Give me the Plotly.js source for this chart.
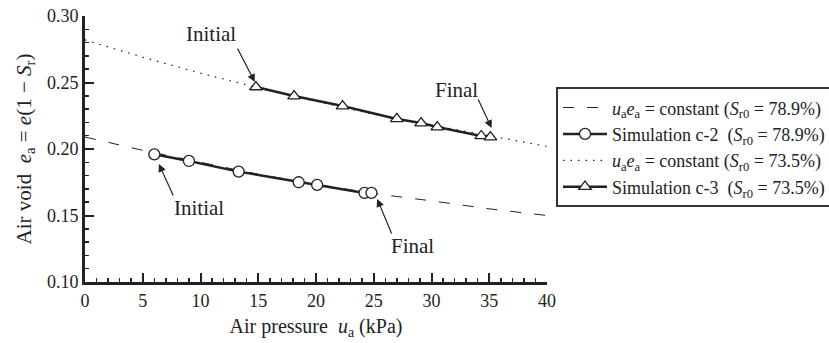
<!DOCTYPE html>
<html>
<head>
<meta charset="utf-8">
<script src="https://cdn.plot.ly/plotly-3.0.1.min.js"></script>
<style>html,body{margin:0;padding:0;background:#fff;}#chart{width:829px;height:343px;}</style>
</head>
<body>
<div id="chart"></div>
<script>
// u_a e_a = constant curves
const constX = [0, 5, 10, 15, 20, 25, 30, 35, 40];
const const789 = [0.209, 0.199, 0.190, 0.181, 0.1735, 0.1665, 0.161, 0.155, 0.150];
const const735 = [0.282, 0.269, 0.257, 0.246, 0.236, 0.226, 0.218, 0.210, 0.202];
// Simulation c-2 (S_r0 = 78.9%)
const c2X = [6.0, 9.0, 13.3, 18.5, 20.1, 24.2, 24.8];
const c2Y = [0.196, 0.191, 0.183, 0.175, 0.173, 0.167, 0.167];
// Simulation c-3 (S_r0 = 73.5%)
const c3X = [14.8, 18.1, 22.3, 27.0, 29.1, 30.5, 34.3, 35.1];
const c3Y = [0.2466, 0.2398, 0.2323, 0.2226, 0.2195, 0.2165, 0.2098, 0.2090];
const xTicks = [0, 5, 10, 15, 20, 25, 30, 35, 40];
const yTicks = [0.10, 0.15, 0.20, 0.25, 0.30];
const legendNames = [
  '<i>u</i><sub>a</sub><i>e</i><sub>a</sub> = constant (<i>S</i><sub>r0</sub> = 78.9%)',
  'Simulation c-2  (<i>S</i><sub>r0</sub> = 78.9%)',
  '<i>u</i><sub>a</sub><i>e</i><sub>a</sub> = constant (<i>S</i><sub>r0</sub> = 73.5%)',
  'Simulation c-3  (<i>S</i><sub>r0</sub> = 73.5%)'
];

const ink = '#222';
const font = 'Liberation Serif, Times New Roman, serif';

const traces = [
  {x: constX, y: const789, mode: 'lines', name: legendNames[0],
   line: {color: ink, width: 1, dash: '11px,13px'}},
  {x: c2X, y: c2Y, mode: 'lines+markers', name: legendNames[1],
   line: {color: ink, width: 2.5},
   marker: {symbol: 'circle', size: 11, color: '#fff', line: {color: ink, width: 1.3}}},
  {x: constX, y: const735, mode: 'lines', name: legendNames[2],
   line: {color: ink, width: 1.2, dash: '1.5px,6px'}},
  {x: c3X, y: c3Y, mode: 'lines+markers', name: legendNames[3],
   line: {color: ink, width: 2.5},
   marker: {symbol: 'triangle-up', size: 11, color: '#fff', line: {color: ink, width: 1.3}}}
];

function arrow(x, y, ax, ay) {
  return {x: x, y: y, xref: 'x', yref: 'y', ax: ax, ay: ay, text: '', showarrow: true,
          arrowhead: 2, arrowsize: 1.3, arrowwidth: 1.2, arrowcolor: ink};
}
function label(x, y, t) {
  return {x: x, y: y, xref: 'x', yref: 'y', text: t, showarrow: false,
          font: {family: font, size: 21, color: ink}};
}
function px2x(p) { return (p - 85) / 462 * 40; }
function px2y(p) { return 0.30 - (p - 16) / 266 * 0.20; }

const annotations = [
  arrow(14.7, 0.2504, -18, -35),
  label(px2x(211), px2y(34), 'Initial'),
  arrow(35.2, 0.2158, -14, -30),
  label(px2x(456), px2y(90), 'Final'),
  arrow(6.4, 0.1887, 15, 33),
  label(px2x(199), px2y(208), 'Initial'),
  arrow(25.3, 0.1624, 15, 36),
  label(px2x(412), px2y(246), 'Final')
];

const layout = {
  width: 829, height: 343,
  margin: {l: 85, r: 282, t: 16, b: 61, autoexpand: false},
  paper_bgcolor: '#fff', plot_bgcolor: '#fff',
  font: {family: font, size: 18, color: ink},
  showlegend: true,
  legend: {x: 1.0195, y: 0.732, xanchor: 'left', yanchor: 'top',
           bordercolor: '#333', borderwidth: 2, bgcolor: '#fff',
           font: {family: font, size: 18, color: ink}, itemwidth: 44,
           tracegroupgap: 0},
  xaxis: {range: [0, 40], tickvals: xTicks, ticktext: xTicks.map(String), automargin: false,
          showgrid: false, zeroline: false, showline: true, linecolor: ink, linewidth: 3,
          ticks: 'inside', ticklen: 9, tickwidth: 2, tickcolor: ink,
          minor: {dtick: 1, ticks: 'inside', ticklen: 4, tickwidth: 1.5, tickcolor: ink, showgrid: false},
          tickfont: {family: font, size: 18, color: ink},
          title: {text: 'Air pressure  <i>u</i><sub>a</sub> (kPa)', font: {family: font, size: 20, color: ink}, standoff: 10}},
  yaxis: {range: [0.10, 0.30], tickvals: yTicks, ticktext: yTicks.map(v => v.toFixed(2)), automargin: false,
          showgrid: false, zeroline: false, showline: true, linecolor: ink, linewidth: 3,
          ticks: 'inside', ticklen: 9, tickwidth: 2, tickcolor: ink,
          minor: {dtick: 0.01, ticks: 'inside', ticklen: 4, tickwidth: 1.5, tickcolor: ink, showgrid: false},
          tickfont: {family: font, size: 18, color: ink},
          title: {text: 'Air void  <i>e</i><sub>a</sub> = <i>e</i>(1 − <i>S</i><sub>r</sub>)', font: {family: font, size: 21, color: ink}, standoff: 10}},
  annotations: annotations
};

Plotly.newPlot('chart', traces, layout, {staticPlot: true, displayModeBar: false});
</script>
</body>
</html>
